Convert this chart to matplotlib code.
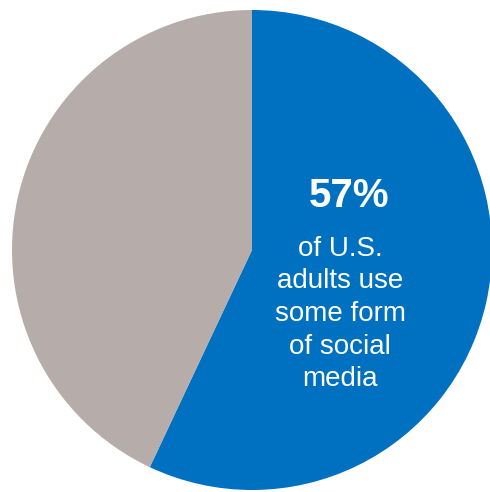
import matplotlib.pyplot as plt

labels = ['Use social media', 'Do not use']
shares = [57, 43]
colors = ['#0070C0', '#B6ACA9']

plt.rcParams['font.family'] = ['Liberation Sans', 'DejaVu Sans']

fig = plt.figure(figsize=(4.9, 4.92), dpi=100)
ax = fig.add_axes([0, 0, 1, 1])
ax.set_xlim(0, 490)
ax.set_ylim(0, 492)
ax.set_aspect('equal')
ax.axis('off')

# blue slice starts at 12 o'clock and runs clockwise
ax.pie(shares, colors=colors, startangle=90, counterclock=False,
       radius=240, center=(252, 242), wedgeprops={'linewidth': 0})
ax.set_xlim(0, 490)
ax.set_ylim(0, 492)

ax.text(349, 296, f'{shares[0]}%', color='white', fontsize=29,
        fontweight='bold', ha='center', va='center')
ax.text(340, 178, 'of U.S.\nadults use\nsome form\nof social\nmedia',
        color='white', fontsize=20, ha='center', va='center',
        multialignment='center', linespacing=1.33)

fig.savefig('out.png', dpi=100)
